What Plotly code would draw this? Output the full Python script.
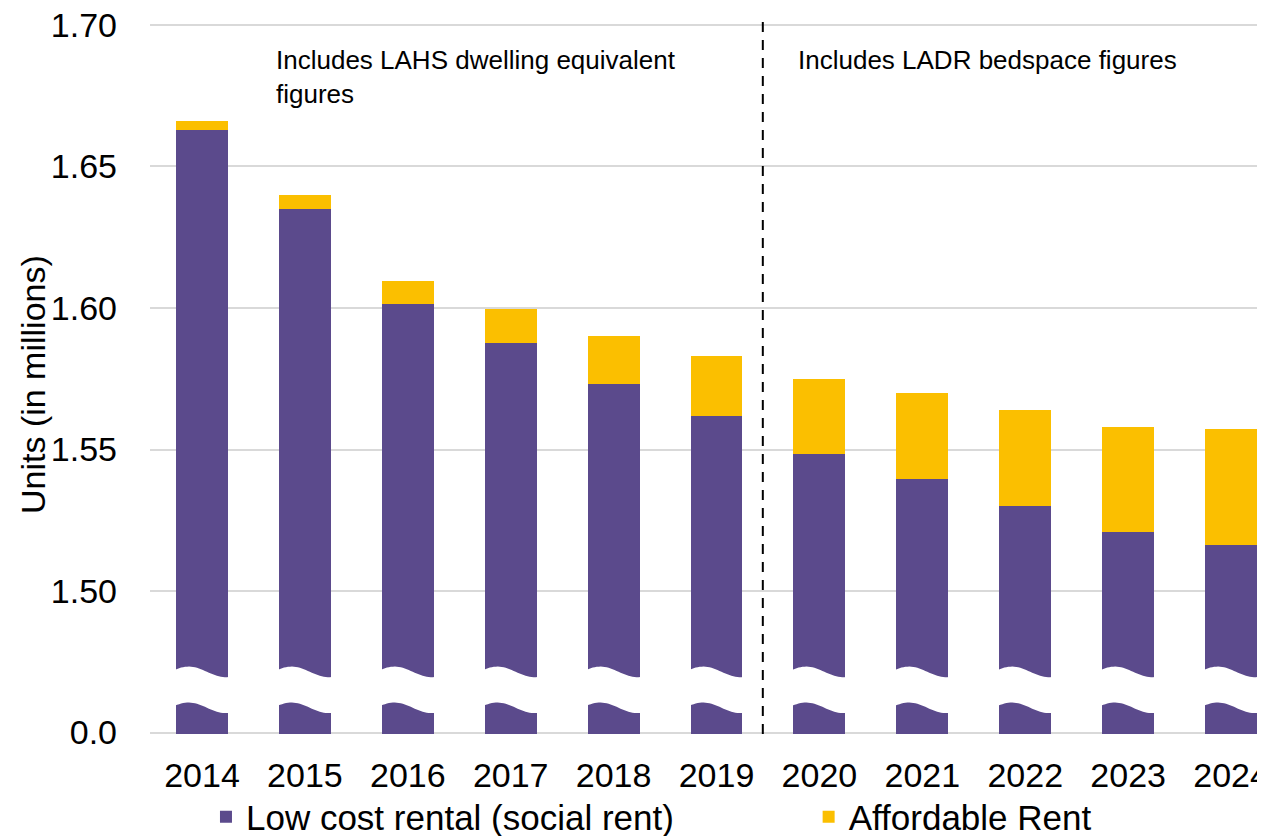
"""Low cost and affordable rental stock, 2014-2024, with a broken y-axis."""

import numpy as np
import plotly.graph_objects as go

YEARS = [2014, 2015, 2016, 2017, 2018, 2019, 2020, 2021, 2022, 2023, 2024]
# units in millions
SOCIAL_RENT = [1.6629, 1.6348, 1.6014, 1.5875, 1.5732, 1.5617, 1.5485, 1.5396, 1.5300, 1.5207, 1.5164]
AFFORDABLE_RENT = [0.0032, 0.0052, 0.0083, 0.0122, 0.0168, 0.0212, 0.0265, 0.0305, 0.0339, 0.0372, 0.0407]

TICK_VALUES = [1.45, 1.50, 1.55, 1.60, 1.65, 1.70]
TICK_LABELS = ["0.0", "1.50", "1.55", "1.60", "1.65", "1.70"]

PURPLE = "#5B4A8C"
YELLOW = "#FBBF00"
FONT = "Liberation Sans, Arial, sans-serif"

# axis is broken: everything below 1.45 is hidden, the "0.0" tick sits at 1.45
Y_FLOOR = 1.4495
Y_TOP = 1.7035
SPLIT_AT = 2019.45


def break_path(x_center: float) -> str:
    """White wavy band drawn over a bar to mark the axis break."""
    t = np.linspace(-0.28, 0.28, 30)
    wave = 0.00187 * np.sin(2 * np.pi * (t + 0.31) / 0.72)
    top = 1.47145 + wave
    bottom = 1.45875 + wave
    pts = [f"{x_center + a:.4f},{b:.5f}" for a, b in zip(t, top)]
    pts += [f"{x_center + a:.4f},{b:.5f}" for a, b in zip(t[::-1], bottom[::-1])]
    return "M" + " L".join(pts) + " Z"


def legend_box(x: float) -> dict:
    return {
        "orientation": "h",
        "x": x,
        "xanchor": "left",
        "y": -0.1154,
        "yanchor": "middle",
        "bgcolor": "rgba(0,0,0,0)",
        "font": {"size": 35},
    }


fig = go.Figure()
fig.add_trace(
    go.Bar(
        x=YEARS,
        y=SOCIAL_RENT,
        name="Low cost rental (social rent)",
        marker={"color": PURPLE, "line": {"width": 0}},
        width=0.505,
        legend="legend",
    )
)
fig.add_trace(
    go.Bar(
        x=YEARS,
        y=AFFORDABLE_RENT,
        name="Affordable Rent",
        marker={"color": YELLOW, "line": {"width": 0}},
        width=0.505,
        legend="legend2",
    )
)

shapes = [
    {
        "type": "path",
        "path": break_path(year),
        "xref": "x",
        "yref": "y",
        "fillcolor": "white",
        "line": {"width": 0},
        "layer": "above",
    }
    for year in YEARS
]
shapes.append(
    {
        "type": "line",
        "xref": "x",
        "yref": "paper",
        "x0": SPLIT_AT,
        "x1": SPLIT_AT,
        "y0": 0,
        "y1": 0.993,
        "line": {"color": "black", "width": 2, "dash": "10px,8px"},
        "layer": "above",
    }
)

note_style = {
    "xref": "x",
    "yref": "y",
    "xanchor": "left",
    "yanchor": "top",
    "align": "left",
    "showarrow": False,
    "font": {"size": 26},
}

# the page body has an 8px margin, so the figure is drawn 8px in from the corner
fig.update_layout(
    width=1257,
    height=828,
    barmode="stack",
    bargap=0.5,
    paper_bgcolor="white",
    plot_bgcolor="white",
    margin={"l": 142, "r": 0, "t": 7, "b": 102, "autoexpand": False},
    font={"family": FONT, "color": "black", "size": 34},
    shapes=shapes,
    showlegend=True,
    legend=legend_box(0.0502),
    legend2=legend_box(0.5907),
    annotations=[
        {"text": "Includes LAHS dwelling equivalent<br>figures", "x": 2014.7, "y": 1.6935, **note_style},
        {"text": "Includes LADR bedspace figures", "x": 2019.77, "y": 1.6935, **note_style},
        {
            "text": "Units (in millions)",
            "textangle": -90,
            "x": -0.1049,
            "y": 0.4854,
            "xref": "paper",
            "yref": "paper",
            "xanchor": "center",
            "yanchor": "middle",
            "showarrow": False,
            "font": {"size": 34},
        },
    ],
)
fig.update_xaxes(
    range=[2013.495, 2024.33],
    tickvals=YEARS,
    ticktext=[str(y) for y in YEARS],
    showgrid=False,
    zeroline=False,
    showline=False,
    ticklabelstandoff=18,
    ticklabeloverflow="allow",
    tickfont={"size": 34},
)
fig.update_yaxes(
    range=[Y_FLOOR, Y_TOP],
    tickvals=TICK_VALUES,
    ticktext=TICK_LABELS,
    showgrid=True,
    gridcolor="#D9D9D9",
    gridwidth=1.5,
    zeroline=False,
    showline=False,
    ticklabelstandoff=32,
    ticklabeloverflow="allow",
    tickfont={"size": 34},
)

fig.write_html("out.html")
